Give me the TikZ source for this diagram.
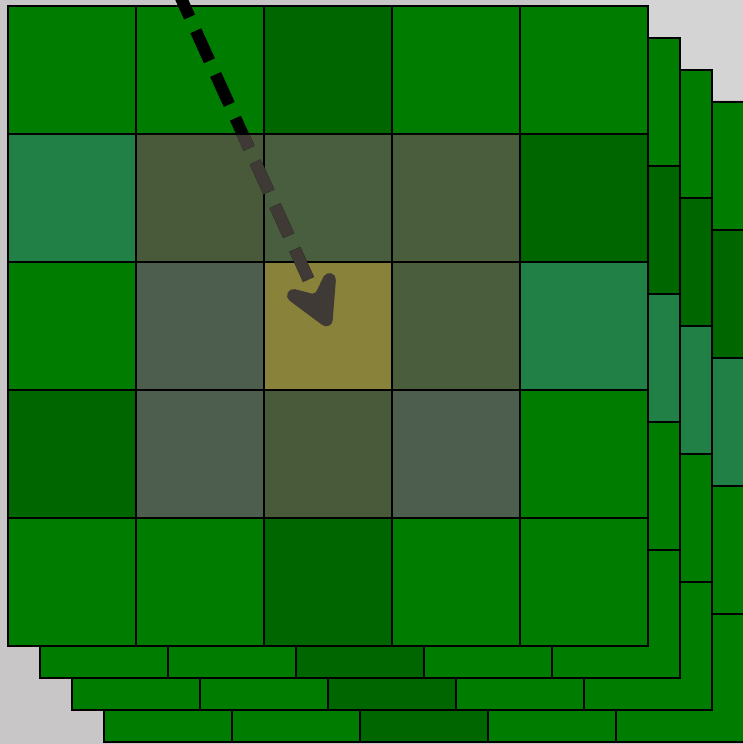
\documentclass[tikz,border=0pt]{standalone}
\definecolor{bgc}{RGB}{200,198,199}
\definecolor{gA}{RGB}{0,124,0}
\definecolor{gD}{RGB}{0,102,0}
\definecolor{gT}{RGB}{33,128,70}
\definecolor{oA}{RGB}{72,90,58}
\definecolor{oB}{RGB}{72,94,62}
\definecolor{oC}{RGB}{74,94,62}
\definecolor{oT}{RGB}{77,94,79}
\definecolor{oY}{RGB}{136,130,58}
\definecolor{arrg}{RGB}{64,58,54}
\begin{document}
\begin{tikzpicture}[x=1pt,y=-1pt,
  cellbox/.style={draw=black, line width=2.8pt},
  shaft/.style={line width=12pt, dash pattern=on 33pt off 15pt}]
\useasboundingbox (0,0) rectangle (743,744);
\fill[bgc] (0,0) rectangle (743,744);
\fill[white, opacity=0.25] (560,0) rectangle (743,100);
\foreach \off in {96,64,32,0} {
  \foreach \r/\c/\col in {
    0/0/gA,0/1/gA,0/2/gD,0/3/gA,0/4/gA,
    1/0/gT,1/1/oA,1/2/oB,1/3/oC,1/4/gD,
    2/0/gA,2/1/oT,2/2/oY,2/3/oC,2/4/gT,
    3/0/gD,3/1/oT,3/2/oA,3/3/oT,3/4/gA,
    4/0/gA,4/1/gA,4/2/gD,4/3/gA,4/4/gA} {
    \draw[cellbox, fill=\col] ({8+\off+128*\c},{6+\off+128*\r}) rectangle ++(128,128);
  }
}
\coordinate (s) at (176,-13);
\coordinate (n) at (316,296);
\draw[shaft, black] (s) -- (n);
\begin{scope}
  \clip (137,135) rectangle (519,517);
  \draw[shaft, arrg] (s) -- (n);
\end{scope}
\filldraw[arrg, line width=13pt, line join=round, line cap=round]
  (293.5,295.5) -- (326.2,319.8) -- (329.4,279.5) -- (318.5,302) -- cycle;
\end{tikzpicture}
\end{document}
